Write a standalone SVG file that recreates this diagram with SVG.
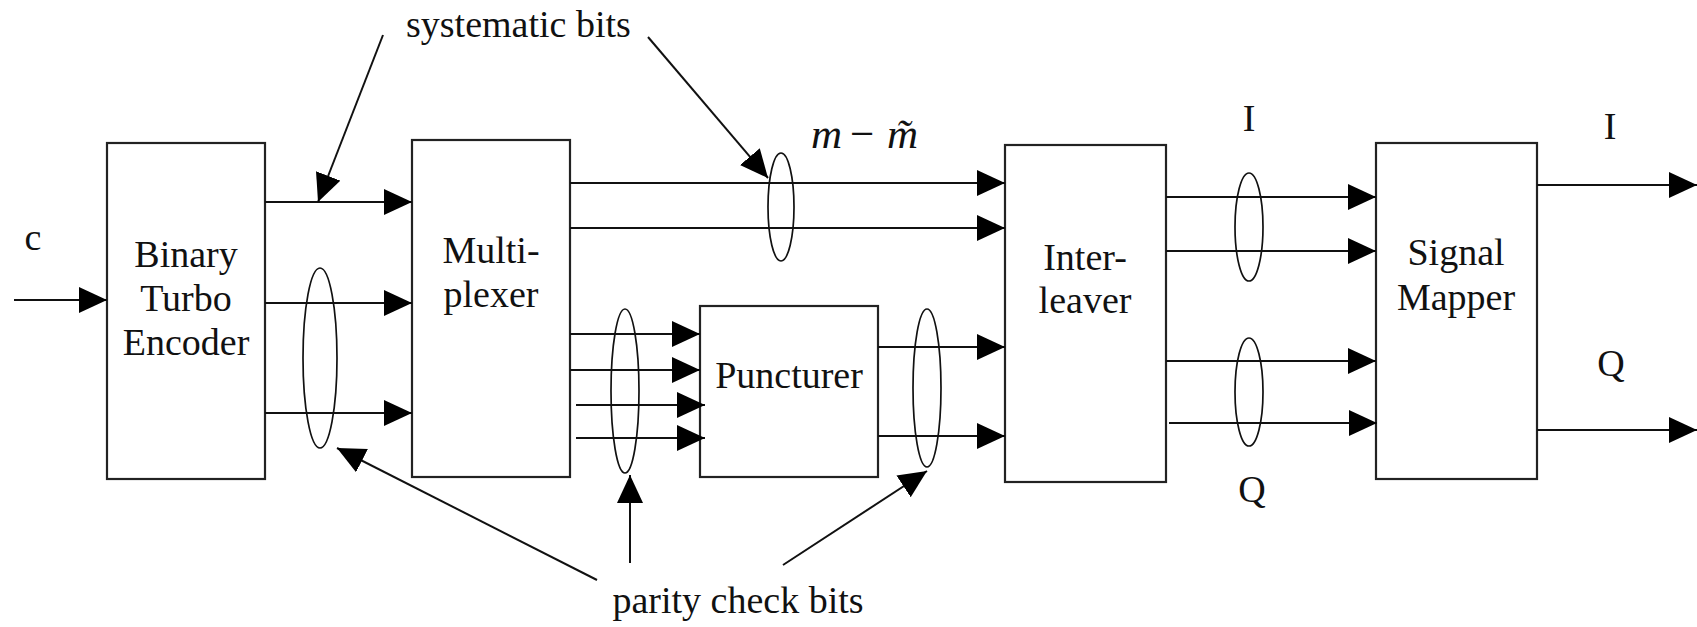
<svg xmlns="http://www.w3.org/2000/svg" width="1697" height="627" viewBox="0 0 1697 627">
<style>
.box{fill:#fff;stroke:#222;stroke-width:2.2}
.ln{fill:none;stroke:#111;stroke-width:2}
.el{fill:none;stroke:#111;stroke-width:1.7}
.t{font-size:38px;fill:#111}
.c{text-anchor:middle}
</style>
<defs>
<marker id="ah" markerUnits="userSpaceOnUse" markerWidth="30" markerHeight="28" refX="28" refY="13" orient="auto">
<path d="M0,0 L28,13 L0,26 Z" fill="#000"/>
</marker>
</defs>
<rect width="1697" height="627" fill="#fff"/>

<g font-family="Liberation Serif, DejaVu Serif, serif">
<g id="encoder">
<rect class="box" x="107" y="143" width="158" height="336"/>
<text class="t c" x="186" y="267">Binary</text>
<text class="t c" x="186" y="311">Turbo</text>
<text class="t c" x="186" y="355">Encoder</text>
</g>
<g id="multiplexer">
<rect class="box" x="412" y="140" width="158" height="337"/>
<text class="t c" x="491" y="263">Multi-</text>
<text class="t c" x="491" y="307">plexer</text>
</g>
<g id="puncturer">
<rect class="box" x="700" y="306" width="178" height="171"/>
<text class="t c" x="789" y="388">Puncturer</text>
</g>
<g id="interleaver">
<rect class="box" x="1005" y="145" width="161" height="337"/>
<text class="t c" x="1085" y="270">Inter-</text>
<text class="t c" x="1085" y="313">leaver</text>
</g>
<g id="mapper">
<rect class="box" x="1376" y="143" width="161" height="336"/>
<text class="t c" x="1456" y="265">Signal</text>
<text class="t c" x="1456" y="310">Mapper</text>
</g>

<g id="connectors">
<line class="ln" x1="14" y1="300" x2="107" y2="300" marker-end="url(#ah)"/>
<line class="ln" x1="265" y1="202" x2="412" y2="202" marker-end="url(#ah)"/>
<line class="ln" x1="265" y1="303" x2="412" y2="303" marker-end="url(#ah)"/>
<line class="ln" x1="265" y1="413" x2="412" y2="413" marker-end="url(#ah)"/>
<line class="ln" x1="570" y1="183" x2="1005" y2="183" marker-end="url(#ah)"/>
<line class="ln" x1="570" y1="228" x2="1005" y2="228" marker-end="url(#ah)"/>
<line class="ln" x1="570" y1="334" x2="700" y2="334" marker-end="url(#ah)"/>
<line class="ln" x1="570" y1="370" x2="700" y2="370" marker-end="url(#ah)"/>
<line class="ln" x1="576" y1="405" x2="705" y2="405" marker-end="url(#ah)"/>
<line class="ln" x1="576" y1="438" x2="705" y2="438" marker-end="url(#ah)"/>
<line class="ln" x1="878" y1="347" x2="1005" y2="347" marker-end="url(#ah)"/>
<line class="ln" x1="878" y1="436" x2="1005" y2="436" marker-end="url(#ah)"/>
<line class="ln" x1="1166" y1="197" x2="1376" y2="197" marker-end="url(#ah)"/>
<line class="ln" x1="1166" y1="251" x2="1376" y2="251" marker-end="url(#ah)"/>
<line class="ln" x1="1166" y1="361" x2="1376" y2="361" marker-end="url(#ah)"/>
<line class="ln" x1="1169" y1="423" x2="1377" y2="423" marker-end="url(#ah)"/>
<line class="ln" x1="1537" y1="185" x2="1697" y2="185" marker-end="url(#ah)"/>
<line class="ln" x1="1537" y1="430" x2="1697" y2="430" marker-end="url(#ah)"/>
<line class="ln" x1="383" y1="35" x2="318" y2="202" marker-end="url(#ah)"/>
<line class="ln" x1="648" y1="37" x2="768" y2="178" marker-end="url(#ah)"/>
<line class="ln" x1="597" y1="580" x2="337" y2="448" marker-end="url(#ah)"/>
<line class="ln" x1="630" y1="563" x2="630" y2="475" marker-end="url(#ah)"/>
<line class="ln" x1="783" y1="565" x2="927" y2="471" marker-end="url(#ah)"/>
<ellipse class="el" cx="320" cy="358" rx="17" ry="90"/>
<ellipse class="el" cx="781" cy="207" rx="13" ry="54"/>
<ellipse class="el" cx="625" cy="391" rx="14" ry="82"/>
<ellipse class="el" cx="927" cy="388" rx="14" ry="79"/>
<ellipse class="el" cx="1249" cy="227" rx="14" ry="54"/>
<ellipse class="el" cx="1249" cy="392" rx="14" ry="54"/>
</g>

<g id="labels">
<text class="t c" x="33" y="250">c</text>
<text class="t" x="406" y="37">systematic bits</text>
<text class="t c" x="738" y="613">parity check bits</text>
<text class="t" y="148" style="font-size:43px"><tspan x="811" font-style="italic">m</tspan><tspan x="850">−</tspan><tspan x="887" font-style="italic">m̃</tspan></text>
<text class="t c" x="1249" y="131">I</text>
<text class="t c" x="1252" y="502">Q</text>
<text class="t c" x="1610" y="139">I</text>
<text class="t c" x="1611" y="376">Q</text>
</g>
</g>
</svg>
